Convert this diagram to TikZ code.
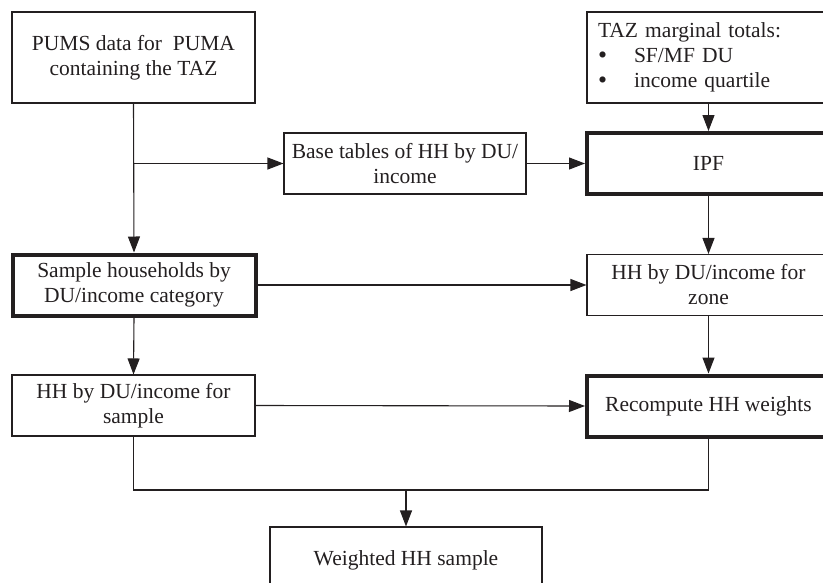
\documentclass[tikz,border=0pt]{standalone}
\usepackage{fontspec}
\setmainfont{Liberation Serif}
\usetikzlibrary{arrows.meta}
\definecolor{ink}{HTML}{231F20}
\newcommand{\blt}{\raisebox{-1pt}[0pt][0pt]{\scalebox{1.2}{\textbullet}}}

\begin{document}
\begin{tikzpicture}[x=1pt,y=-1pt,color=ink,
	box/.style={draw,line width=1.1pt,align=center,minimum width=243pt,minimum height=61pt,inner sep=0pt,font=\fontsize{21.5}{25}\selectfont},
	thickbox/.style={box,line width=4pt},
	flow/.style={-{Triangle[length=16pt,width=12pt]},line width=1.1pt}]
	\useasboundingbox (0,0) rectangle (823,582);
	% left column
	\node[box,minimum height=91pt] (pums) at (133.5,57.5) {PUMS data for\ \ PUMA\\containing the TAZ};
	\node[thickbox] (samp) at (134,285) {Sample households by\\DU/income category};
	\node[box] (hhs) at (133.5,405.5) {HH by DU/income for\\sample};
	% middle
	\node[box,minimum width=242pt] (base) at (405,163.5) {Base tables of HH by DU/\\income};
	\node[box,minimum width=272pt,minimum height=66pt] (wtd) at (406,560) {Weighted HH sample};
	% right column (cut off by the page edge)
	\node[box,minimum height=91pt,align=left,text width=221pt,inner xsep=11pt] (taz) at (708.5,57.5) {TAZ marginal totals:\\\blt\hspace{27pt}SF/MF DU\\\blt\hspace{27pt}income quartile};
	\node[thickbox] (ipf) at (708.5,163.5) {IPF};
	\node[box] (zone) at (708.5,285) {HH by DU/income for\\zone};
	\node[thickbox] (rec) at (708.5,406) {Recompute HH weights};
	\coordinate (join) at (406,490);
	% connectors
	\draw[flow] (pums.south) -- (samp.north);
	\draw[flow] (pums.south |- base.west) -- (base.west);
	\draw[flow] (base.east) -- (ipf.west);
	\draw[flow] (taz.south) -- (ipf.north);
	\draw[flow] (ipf.south) -- (zone.north);
	\draw[flow] (samp.east) -- (zone.west);
	\draw[flow] (samp.south) -- (hhs.north);
	\draw[flow] (zone.south) -- (rec.north);
	\draw[flow] (hhs.east) -- (rec.west);
	\draw[line width=1.1pt] (hhs.south) |- (join) -| (rec.south);
	\draw[flow] (join) -- (wtd.north);
\end{tikzpicture}
\end{document}
